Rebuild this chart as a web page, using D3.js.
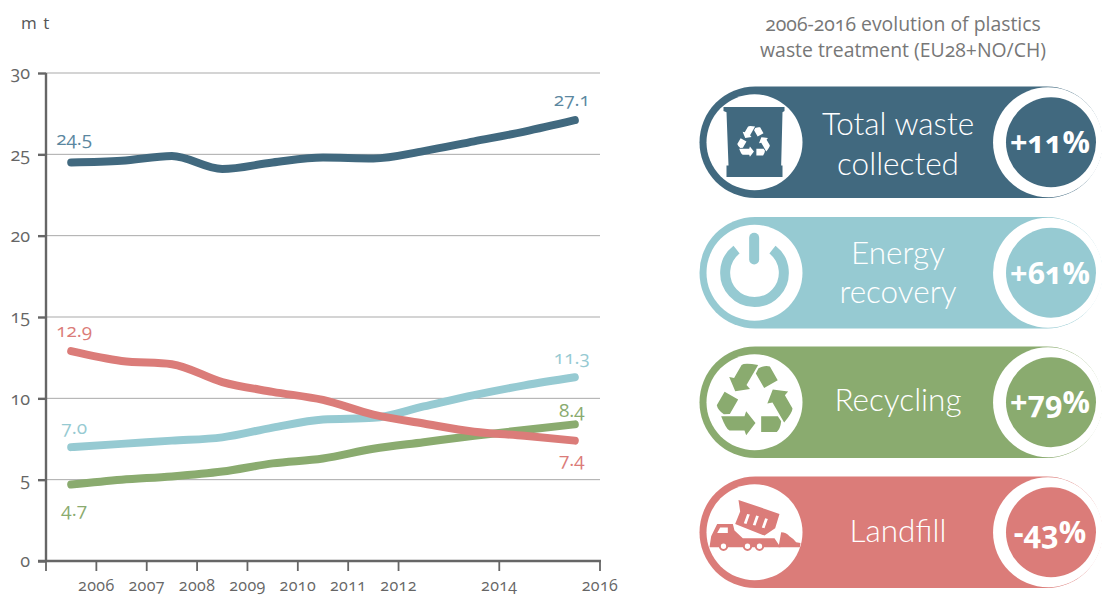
<!DOCTYPE html>
<html><head><meta charset="utf-8">
<script src="https://cdn.jsdelivr.net/npm/d3@7/dist/d3.min.js"></script>
<style>
html,body{margin:0;padding:0;background:#fff;overflow:hidden}
svg{display:block}
text{font-family:"Open Sans",Lato,sans-serif;font-feature-settings:"onum" 1;font-variant-numeric:oldstyle-nums}
</style></head><body>
<svg id="c" width="1102" height="596"></svg>
<script>
const years=[2006,2007,2008,2009,2010,2011,2012,2013,2014,2015,2016];
const tickYears=[2006,2007,2008,2009,2010,2011,2012,2014,2016];
const yTicks=[0,5,10,15,20,25,30];
const totalWaste=[24.5,24.6,24.9,24.1,24.5,24.8,24.75,25.2,25.8,26.4,27.1];
const energy=[7.0,7.2,7.4,7.6,8.2,8.7,8.8,9.5,10.2,10.8,11.3];
const recycling=[4.7,5.0,5.2,5.5,6.0,6.3,6.9,7.3,7.7,8.05,8.4];
const landfill=[12.9,12.3,12.1,11.0,10.4,9.9,9.0,8.45,7.95,7.7,7.4];
const colors={navy:"#41697f",teal:"#96cad2",green:"#8aab6f",red:"#db7c79"};
const pillNames=[["Total waste","collected"],["Energy","recovery"],["Recycling"],["Landfill"]];
const pillValues=["+11%","+61%","+79%","-43%"];
const pillColors=[colors.navy,colors.teal,colors.green,colors.red];
const pillTops=[86.5,217,346.5,476.5];
const pillBaselines=[[48,88],[47,86],[64],[65]];

const svg=d3.select("#c");
const x=d3.scaleBand().domain(years).range([46,600]);
const y=d3.scaleLinear().domain([0,30]).range([561,73]);
const tickX=d=>x(d)+x.bandwidth();

svg.append("g").selectAll("line").data(yTicks.slice(1)).join("line")
 .attr("x1",46).attr("x2",600).attr("y1",d=>y(d)).attr("y2",d=>y(d))
 .attr("stroke","#a9a9a9").attr("stroke-width",1);

const axisCol="#666";
const gy=svg.append("g").attr("transform","translate(46,0)")
 .call(d3.axisLeft(y).tickValues(yTicks).tickSize(8).tickPadding(8).tickFormat(d3.format("d")));
gy.selectAll("path,line").attr("stroke",axisCol).attr("stroke-width",2.4);
gy.select("path").attr("d","M0,73V561");
gy.selectAll("text").attr("font-size",18).attr("fill",axisCol).style("font-family",null);

const gx=svg.append("g").attr("transform","translate(0,561)");
gx.append("line").attr("x1",38).attr("x2",601).attr("stroke",axisCol).attr("stroke-width",2.4);
gx.selectAll(".t").data([null,...tickYears]).join("line")
 .attr("x1",d=>d?tickX(d):46).attr("x2",d=>d?tickX(d):46).attr("y1",0).attr("y2",10)
 .attr("stroke",axisCol).attr("stroke-width",1.8);
gx.selectAll("text").data(tickYears).join("text")
 .attr("x",d=>tickX(d)).attr("y",30).attr("text-anchor","middle")
 .attr("font-size",16).attr("letter-spacing",0.4).attr("fill",axisCol).text(d=>d);

svg.append("text").attr("x",21).attr("y",29).attr("font-size",17).attr("fill","#555")
 .attr("letter-spacing",1).text("m t");

const line=d3.line().x((d,i)=>x(years[i])+x.bandwidth()/2).y(d=>y(d)).curve(d3.curveMonotoneX);
const series=[[totalWaste,colors.navy],[energy,colors.teal],[recycling,colors.green],[landfill,colors.red]];
svg.append("g").selectAll("path").data(series).join("path")
 .attr("d",d=>line(d[0])).attr("fill","none").attr("stroke",d=>d[1])
 .attr("stroke-width",8).attr("stroke-linecap","round").attr("stroke-linejoin","round");

const labelRows=[
 [totalWaste,0,-17,"#5b87a0"],[totalWaste,10,-14,"#5b87a0"],
 [energy,0,-13,colors.teal],[energy,10,-13,colors.teal],
 [recycling,0,31,colors.green],[recycling,10,-7,colors.green],
 [landfill,0,-14,colors.red],[landfill,10,25,colors.red]];
svg.append("g").selectAll("text").data(labelRows).join("text")
 .attr("x",d=>x(years[d[1]])+x.bandwidth()/2+(d[1]?-3:3))
 .attr("y",d=>y(d[0][d[1]])+d[2])
 .attr("text-anchor","middle").attr("font-size",19).attr("fill",d=>d[3])
 .text(d=>d[0][d[1]].toFixed(1));

const title=svg.append("g").attr("fill","#777").attr("font-size",19.4).attr("text-anchor","middle");
title.append("text").attr("x",903).attr("y",31).text("2006-2016 evolution of plastics");
title.append("text").attr("x",903).attr("y",57).text("waste treatment (EU28+NO/CH)");

const H=111.5;
const pills=svg.selectAll("g.pill").data(pillNames).join("g").attr("class","pill")
 .attr("transform",(d,i)=>`translate(0,${pillTops[i]})`);
pills.append("rect").attr("x",699.5).attr("y",0).attr("width",403).attr("height",H).attr("rx",55.7)
 .attr("fill",(d,i)=>pillColors[i]);
pills.append("path").attr("d",`M1048,0.8A54.9,54.9 0 0 1 1048,${H-0.8}A54.9,54.9 0 0 1 1048,0.8Z`)
 .attr("fill","#fff");
pills.append("circle").attr("cx",1051).attr("cy",H/2).attr("r",45).attr("fill",(d,i)=>pillColors[i]);
pills.append("circle").attr("cx",754.5).attr("cy",H/2).attr("r",48).attr("fill","#fff");
pills.each(function(d,i){
 const g=d3.select(this);
 const t=g.append("text").attr("text-anchor","middle").attr("fill","#fff").attr("font-size",31.5)
   .attr("font-weight",300).style("font-family","Lato,sans-serif");
 d.forEach((s,k)=>t.append("tspan").attr("x",898).attr("y",pillBaselines[i][k]).text(s));
 g.append("text").attr("x",1050).attr("y",H/2+11).attr("text-anchor","middle").attr("fill","#fff")
  .attr("font-size",30.5).attr("font-weight",700).text(pillValues[i]);
});

// one third of the recycling mark: an arrow plus the folded block ahead of it
const recycleThird="M-100,45L-30,45L-25,30L3,65L-25,102L-30,88L-75,88Q-85,85 -100,45Z"+
 "M20,45L70,45L80,60Q78,82 67,92L20,92Z";
function recycle(g,scale,fill){
 const a=g.append("g").attr("transform",`scale(${scale})`);
 a.selectAll("path").data([0,120,240]).join("path").attr("d",recycleThird)
  .attr("transform",d=>`rotate(${d})`).attr("fill",fill);
}
function iconGroup(i){
 return d3.selectAll("g.pill").filter((d,k)=>k===i).append("g")
  .attr("transform",`translate(754.5,${H/2}) scale(${1/3})`);
}
const bin=iconGroup(0);
bin.append("path").attr("fill",colors.navy)
 .attr("d","M-93,-106L90,-106L90,-94L84,-90L80,70L84,70L84,104L-84,104L-84,70L-78,70L-84,-90L-93,-94Z");
recycle(bin.append("g").attr("transform","translate(-3,0)"),0.43,"#fff");
const pw=iconGroup(1);
pw.append("path").attr("fill","none").attr("stroke",colors.teal).attr("stroke-width",30).attr("stroke-linecap","round")
 .attr("d",d3.arc()({innerRadius:88,outerRadius:88,startAngle:0.66,endAngle:2*Math.PI-0.66}));
pw.append("line").attr("x1",-1).attr("x2",-1).attr("y1",-105).attr("y2",-40)
 .attr("stroke",colors.teal).attr("stroke-width",30).attr("stroke-linecap","round");
recycle(iconGroup(2).append("g").attr("transform","translate(0,-3)"),1,colors.green);
const tr=iconGroup(3),rc=colors.red;
tr.append("path").attr("fill",rc).attr("d","M-135,45L-130,12L-112,-25L-65,-25L-60,-5L-35,18L60,18L78,45Z");
tr.append("path").attr("fill","#fff").attr("d","M-103,-14L-80,-14L-80,2L-112,2Z");
tr.append("path").attr("fill",rc).attr("d","M-48,-97L75,-55L62,-12L30,10L-58,-25L-43,-62Z");
tr.append("path").attr("fill","#fff").attr("d","M-22,-55L-14,-53L-24,-25L-32,-27ZM5,-50L13,-48L3,-20L-5,-22ZM32,-42L40,-40L30,-12L22,-14Z");
tr.append("path").attr("fill",rc).attr("d","M80,0Q95,0 105,12Q118,20 125,30L138,32L136,45L72,45Z");
tr.selectAll("circle").data([-93,-21,15]).join("circle").attr("cx",d=>d).attr("cy",42).attr("r",11).attr("fill","#fff").attr("stroke",rc).attr("stroke-width",6);
</script></body></html>
